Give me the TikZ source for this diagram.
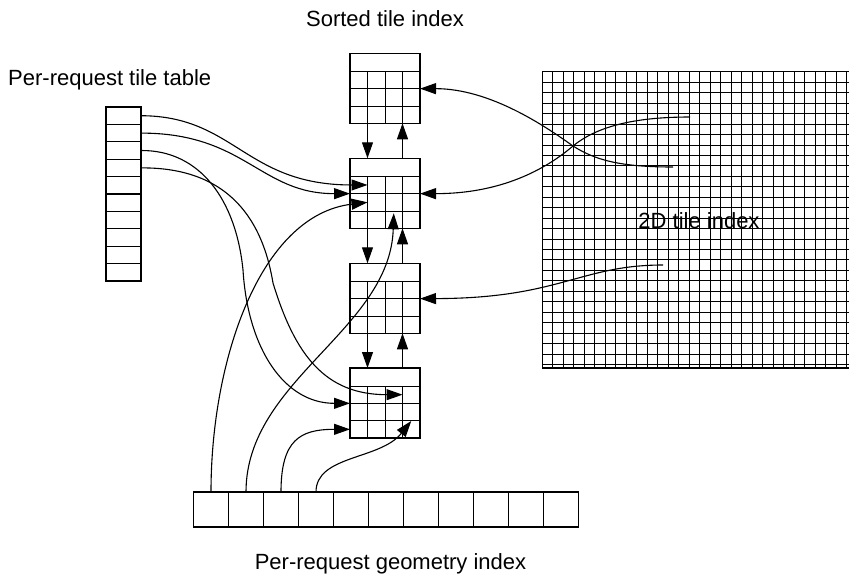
\documentclass[tikz,border=0pt]{standalone}
\usepackage{fontspec}
\setmainfont{Liberation Sans}
\usetikzlibrary{arrows.meta,calc}

\tikzset{
  frame/.style={draw, line width=1.2pt, inner sep=0pt, outer sep=0pt},
  tilebox/.style={frame, minimum width=70pt, minimum height=70pt},
  slot/.style={frame, minimum width=35pt, minimum height=17.4pt},
  cell/.style={frame, minimum width=35pt, minimum height=35pt},
  innerline/.style={line width=0.9pt},
  gridline/.style={line width=0.7pt},
  conn/.style={line width=1.1pt, -{Triangle[length=16pt,width=11pt]}},
  caption/.style={font=\fontsize{22}{26}\selectfont, inner sep=0pt, anchor=base},
}

% one entry of the sorted tile index: a header row above a 4x3 block
\newcommand\sortedtile[3]{%
  \node[tilebox] (#1) at (#2,#3) {};
  \foreach \k in {0,1,2}
    \draw[innerline] ($(#1.north west)+(0,{18+17.333*\k})$) -- ($(#1.north east)+(0,{18+17.333*\k})$);
  \foreach \k in {1,2,3}
    \draw[innerline] ($(#1.north west)+({17.5*\k},18)$) -- ($(#1.south west)+({17.5*\k},0)$);
}

\begin{document}
\begin{tikzpicture}[x=1pt, y=-1pt]
\useasboundingbox (0,0) rectangle (849,574);
\fill[white] (0,0) rectangle (849,574);

% 2D tile index grid
\foreach \i in {0,...,28}
  \draw[gridline] (542.3,{71.7+10.45*\i}) -- (849,{71.7+10.45*\i});
\foreach \j in {0,...,29}
  \draw[gridline] ({542.3+10.5*\j},71.7) -- ({542.3+10.5*\j},368);
\draw[line width=1.2pt] (849,71.7) -- (542.3,71.7) -- (542.3,368) -- (849,368);
\node[caption] (tiles) at (699,228.3) {2D tile index};
\coordinate (ga) at (690,117);
\coordinate (gb) at (673,167);
\coordinate (gc) at (663,265);

% per-request tile table
\foreach \i in {1,...,10}
  \node[slot] (t\i) at (123.5,{98.3+17.4*\i}) {};

% per-request geometry index
\foreach \i in {1,...,11}
  \node[cell] (g\i) at ({176+35*\i},509.5) {};

% sorted tile index
\sortedtile{b1}{385}{88.3}
\sortedtile{b2}{385}{193.3}
\sortedtile{b3}{385}{298.3}
\sortedtile{b4}{385}{403}

% ports on the sorted entries
\foreach \b in {b1,b2,b3}
  \coordinate (\b r) at ($(\b.north east)+(0,35.33)$);
\coordinate (b2la) at ($(b2.north west)+(17.5,26.67)$);
\coordinate (b2lb) at ($(b2.north west)+(0,35.33)$);
\coordinate (b2lc) at ($(b2.north west)+(17.5,44)$);
\coordinate (b2u)  at ($(b2.north west)+(43.75,55)$);
\coordinate (b4la) at ($(b4.north west)+(52.5,26.67)$);
\coordinate (b4lb) at ($(b4.north west)+(0,35.33)$);
\coordinate (b4lc) at ($(b4.north west)+(0,61.33)$);
\coordinate (b4ld) at ($(b4.north west)+(61.25,53)$);

% links between neighbouring entries
\foreach \p/\q in {b1/b2,b2/b3,b3/b4}{
  \draw[conn] ($(\p.south west)+(17.5,0)$) -- ($(\q.north west)+(17.5,0)$);
  \draw[conn] ($(\q.north west)+(52.5,0)$) -- ($(\p.south west)+(52.5,0)$);
}

% from the 2D tile index
\draw[conn] (ga) .. controls (630,117) and (595,128) .. (573,146)
                 .. controls (545,170) and (500,193.7) .. (b2r);
\draw[conn] (gb) .. controls (620,167) and (595,160) .. (573,146)
                 .. controls (545,126) and (490,88.7) .. (b1r);
\draw[conn] (gc) .. controls (580,265) and (560,298.3) .. (b3r);

% from the tile table
\draw[conn] (t1.east) .. controls (235,116) and (245,185) .. (b2la);
\draw[conn] (t2.east) .. controls (245,133) and (260,193.7) .. (b2lb);
\draw[conn] (t3.east) .. controls (200,150) and (236,200) .. (243,270)
                      .. controls (248,350) and (285,403.3) .. (b4lb);
\draw[conn] (t4.east) .. controls (240,167) and (265,235) .. (273,283)
                      .. controls (295,355) and (325,394.7) .. (b4la);

% from the geometry index
\draw[conn] (g1.north) .. controls (211,360) and (260,215) .. (b2lc);
\draw[conn] (g2.north) .. controls (246,380) and (390,330) .. (b2u);
\draw[conn] (g3.north) .. controls (281,440) and (300,429.3) .. (b4lc);
\draw[conn] (g4.north) .. controls (316,455) and (380,460) .. (b4ld);

% captions
\node[caption] (sortedlbl) at (385,26) {Sorted tile index};
\node[caption, anchor=base west] (tablelbl) at (8,85) {Per-request tile table};
\node[caption] (geomlbl) at (390.5,569) {Per-request geometry index};
\end{tikzpicture}
\end{document}
